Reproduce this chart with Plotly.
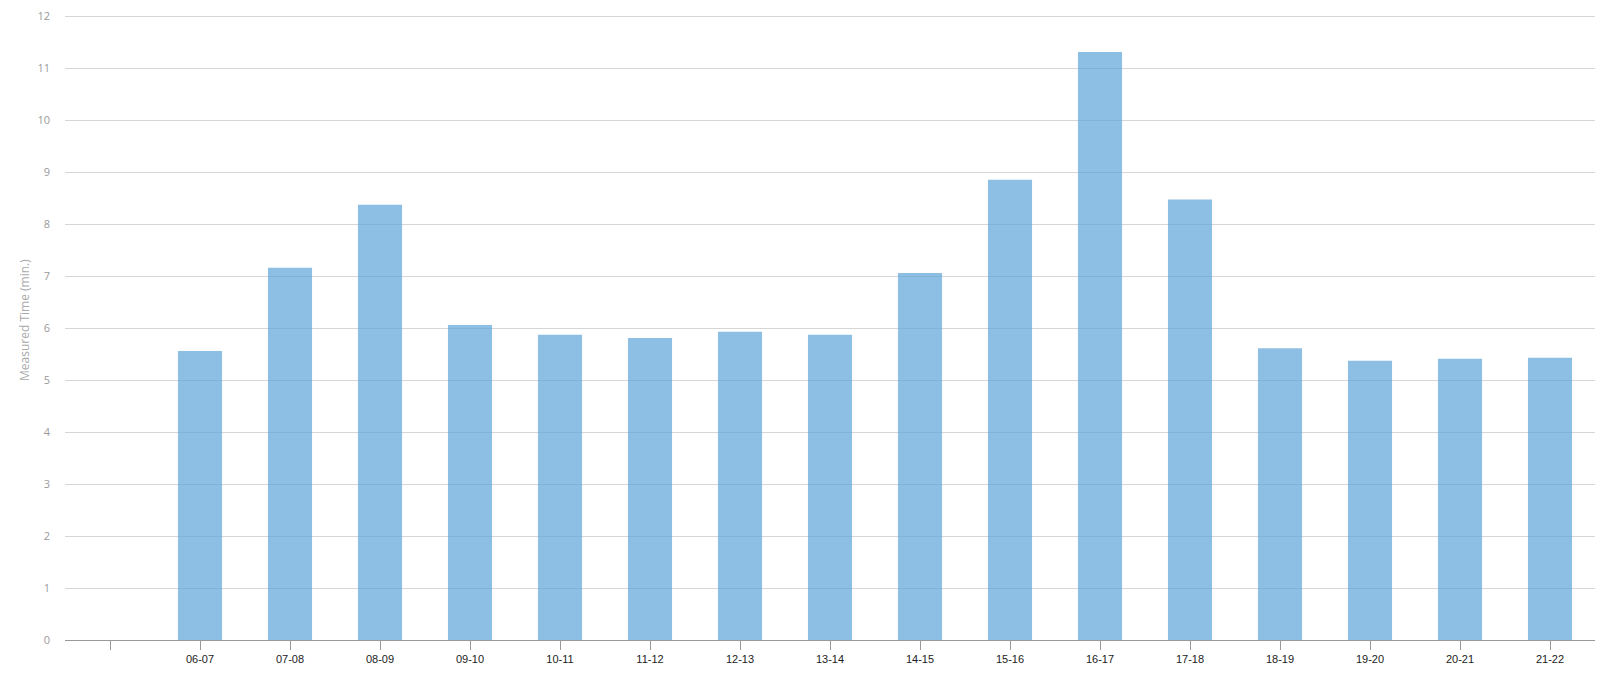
import plotly.graph_objects as go

categories = [" ", "06-07", "07-08", "08-09", "09-10", "10-11", "11-12", "12-13",
              "13-14", "14-15", "15-16", "16-17", "17-18", "18-19", "19-20", "20-21", "21-22"]
measured_time = [None, 5.56, 7.16, 8.37, 6.06, 5.87, 5.81, 5.93,
                 5.87, 7.06, 8.85, 11.31, 8.47, 5.61, 5.37, 5.41, 5.43]
y_ticks = list(range(0, 13))

fig = go.Figure()
fig.add_trace(go.Bar(
    x=categories,
    y=measured_time,
    width=0.49,
    marker=dict(color="rgba(93,164,218,0.7)", line=dict(width=0)),
    hoverinfo="x+y",
))

# page body has an 8px default margin; figure sized to fit the 1608x680 window
W, H = 1592, 664
ml, mr, mt, mb = 57, 5, 7, 32

fig.update_layout(
    width=W, height=H,
    margin=dict(l=ml, r=mr, t=mt, b=mb, pad=0, autoexpand=False),
    plot_bgcolor="white",
    paper_bgcolor="white",
    showlegend=False,
    bargap=0.51,
    xaxis=dict(
        type="category",
        categoryorder="array",
        categoryarray=categories,
        range=[-0.5, len(categories) - 0.5],
        showgrid=False,
        showline=True,
        linecolor="#999999",
        linewidth=1,
        ticks="outside",
        ticklen=9,
        tickwidth=1,
        tickcolor="#999999",
        tickfont=dict(family="Liberation Sans, Arial, sans-serif", size=11, color="#222222"),
        zeroline=False,
        automargin=False,
        fixedrange=True,
    ),
    yaxis=dict(
        range=[0, 12.02],
        tickvals=y_ticks,
        showgrid=True,
        gridcolor="#d6d6d6",
        gridwidth=1,
        showline=False,
        zeroline=False,
        ticks="",
        ticklabelstandoff=14,
        ticklabeloverflow="allow",
        tickfont=dict(family="Open Sans, sans-serif", size=11, color="#9a9a9a"),
        automargin=False,
        fixedrange=True,
    ),
)

plot_w = W - ml - mr
plot_h = H - mt - mb
fig.add_annotation(
    text="Measured Time (min.)",
    xref="paper", yref="paper",
    x=(16 - ml) / plot_w, y=(plot_h - (312 - mt)) / plot_h,
    xanchor="center", yanchor="middle",
    textangle=-90,
    showarrow=False,
    font=dict(family="Open Sans, sans-serif", size=12, color="#aaaaaa"),
)

fig.write_html("out.html")
